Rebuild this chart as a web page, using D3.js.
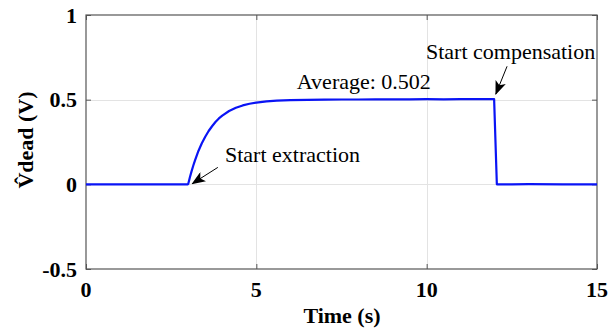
<!DOCTYPE html>
<html>
<head>
<meta charset="utf-8">
<script src="https://cdn.jsdelivr.net/npm/d3@7"></script>
<style>
  html, body { margin: 0; padding: 0; background: #fff; }
  svg { display: block; }
  text { font-family: "Liberation Serif", "Times New Roman", serif; fill: #000; }
</style>
</head>
<body>
<svg id="chart" width="610" height="331"></svg>
<script>
// Extracted dead-time voltage estimate over time
const timeS = [0, 1, 2, 2.99, 3.0, 3.05, 3.1, 3.15, 3.2, 3.3, 3.4, 3.5, 3.6, 3.7, 3.8, 3.9, 4.0, 4.2, 4.4, 4.6, 4.8, 5.0,
  5.3, 5.6, 6.0, 6.5, 7.0, 7.5, 8.0, 8.5, 9.0, 9.5, 10.0, 10.5, 11.0, 11.5, 11.98, 12.06, 12.5, 13, 14, 15];
const vdead = [0, 0, 0, 0, 0.002, 0.042, 0.078, 0.111, 0.142, 0.197, 0.243, 0.281, 0.315, 0.343, 0.368, 0.389, 0.406, 0.433, 0.452, 0.466, 0.476, 0.483,
  0.490, 0.494, 0.497, 0.499, 0.500, 0.501, 0.501, 0.502, 0.502, 0.502, 0.503, 0.502, 0.503, 0.503, 0.503, 0.0, 0.0, 0.001, 0.0, 0.0];

const xTicks = [0, 5, 10, 15];
const yTicks = [-0.5, 0, 0.5, 1];
const xTickLabels = ["0", "5", "10", "15"];
const yTickLabels = ["-0.5", "0", "0.5", "1"];

// Annotation texts (anchored at time / voltage) and arrows (tail -> tip)
const notes = [
  { text: "Start extraction", t: 4.08, v: 0.13 },
  { text: "Average: 0.502", t: 6.19, v: 0.561 },
  { text: "Start compensation", t: 9.98, v: 0.738 }
];
const arrows = [
  { t0: 3.87, v0: 0.10, t1: 3.12, v1: 0.004 },
  { t0: 12.36, v0: 0.697, t1: 12.03, v1: 0.533 }
];

const svg = d3.select("#chart");
const m = { left: 86, right: 13, top: 15, bottom: 62 };
const W = 610, H = 331;
const FONT = "Liberation Serif, Times New Roman, serif";
const x = d3.scaleLinear().domain([0, 15]).range([m.left, W - m.right]);
const y = d3.scaleLinear().domain([-0.5, 1]).range([H - m.bottom, m.top]);

// grid
const grid = svg.append("g").attr("stroke", "#e3e3e3").attr("stroke-width", 1);
xTicks.slice(1, -1).forEach(t => grid.append("line")
  .attr("x1", Math.round(x(t)) + 0.5).attr("x2", Math.round(x(t)) + 0.5)
  .attr("y1", y(1)).attr("y2", y(-0.5)));
yTicks.slice(1, -1).forEach(v => grid.append("line")
  .attr("y1", Math.round(y(v)) + 0.5).attr("y2", Math.round(y(v)) + 0.5)
  .attr("x1", x(0)).attr("x2", x(15)));

// axes with inward ticks on all four sides
const axisColor = "#555";
function styleAxis(g) {
  g.select(".domain").remove();
  g.selectAll(".tick line").attr("stroke", axisColor);
  g.selectAll(".tick text").remove();
}
svg.append("g").attr("transform", `translate(0,${y(-0.5)})`)
  .call(d3.axisBottom(x).tickValues(xTicks).tickSizeInner(-5).tickSizeOuter(0)).call(styleAxis);
svg.append("g").attr("transform", `translate(0,${y(1)})`)
  .call(d3.axisTop(x).tickValues(xTicks).tickSizeInner(-5).tickSizeOuter(0)).call(styleAxis);
svg.append("g").attr("transform", `translate(${x(0)},0)`)
  .call(d3.axisLeft(y).tickValues(yTicks).tickSizeInner(-5).tickSizeOuter(0)).call(styleAxis);
svg.append("g").attr("transform", `translate(${x(15)},0)`)
  .call(d3.axisRight(y).tickValues(yTicks).tickSizeInner(-5).tickSizeOuter(0)).call(styleAxis);

svg.append("rect")
  .attr("x", x(0)).attr("y", y(1))
  .attr("width", x(15) - x(0)).attr("height", y(-0.5) - y(1))
  .attr("fill", "none").attr("stroke", axisColor).attr("stroke-width", 1.2);

// tick labels
svg.append("g").selectAll("text").data(xTicks).join("text")
  .attr("x", d => x(d)).attr("y", y(-0.5) + 28)
  .attr("text-anchor", "middle").attr("font-family", FONT)
  .attr("font-size", 22).attr("font-weight", "bold")
  .text((d, i) => xTickLabels[i]);
svg.append("g").selectAll("text").data(yTicks).join("text")
  .attr("x", x(0) - 9).attr("y", d => y(d) + 7.5)
  .attr("text-anchor", "end").attr("font-family", FONT)
  .attr("font-size", 22).attr("font-weight", "bold")
  .text((d, i) => yTickLabels[i]);

// axis titles
svg.append("text").attr("x", 342).attr("y", 323)
  .attr("text-anchor", "middle").attr("font-family", FONT)
  .attr("font-size", 22).attr("font-weight", "bold")
  .text("Time (s)");
svg.append("text")
  .attr("transform", "translate(33,140) rotate(-90)")
  .attr("text-anchor", "middle").attr("font-family", FONT)
  .attr("font-size", 22).attr("font-weight", "bold")
  .text("V\u0302dead (V)");

// signal
const line = d3.line().x((d, i) => x(timeS[i])).y(d => y(d));
svg.append("path").datum(vdead)
  .attr("d", line).attr("fill", "none")
  .attr("stroke", "#0a14f5").attr("stroke-width", 2.2).attr("stroke-linejoin", "round");

// annotations
svg.append("g").selectAll("text").data(notes).join("text")
  .attr("x", d => x(d.t)).attr("y", d => y(d.v))
  .attr("font-family", FONT).attr("font-size", 22)
  .text(d => d.text);

svg.append("defs").append("marker")
  .attr("id", "head").attr("viewBox", "0 0 14 11")
  .attr("refX", 13).attr("refY", 5.5)
  .attr("markerWidth", 14).attr("markerHeight", 11)
  .attr("markerUnits", "userSpaceOnUse").attr("orient", "auto")
  .append("path").attr("d", "M0,0 L14,5.5 L0,11 L3.5,5.5 Z").attr("fill", "#000");

svg.append("g").selectAll("line").data(arrows).join("line")
  .attr("x1", d => x(d.t0)).attr("y1", d => y(d.v0))
  .attr("x2", d => x(d.t1)).attr("y2", d => y(d.v1))
  .attr("stroke", "#000").attr("stroke-width", 1)
  .attr("marker-end", "url(#head)");
</script>
</body>
</html>
